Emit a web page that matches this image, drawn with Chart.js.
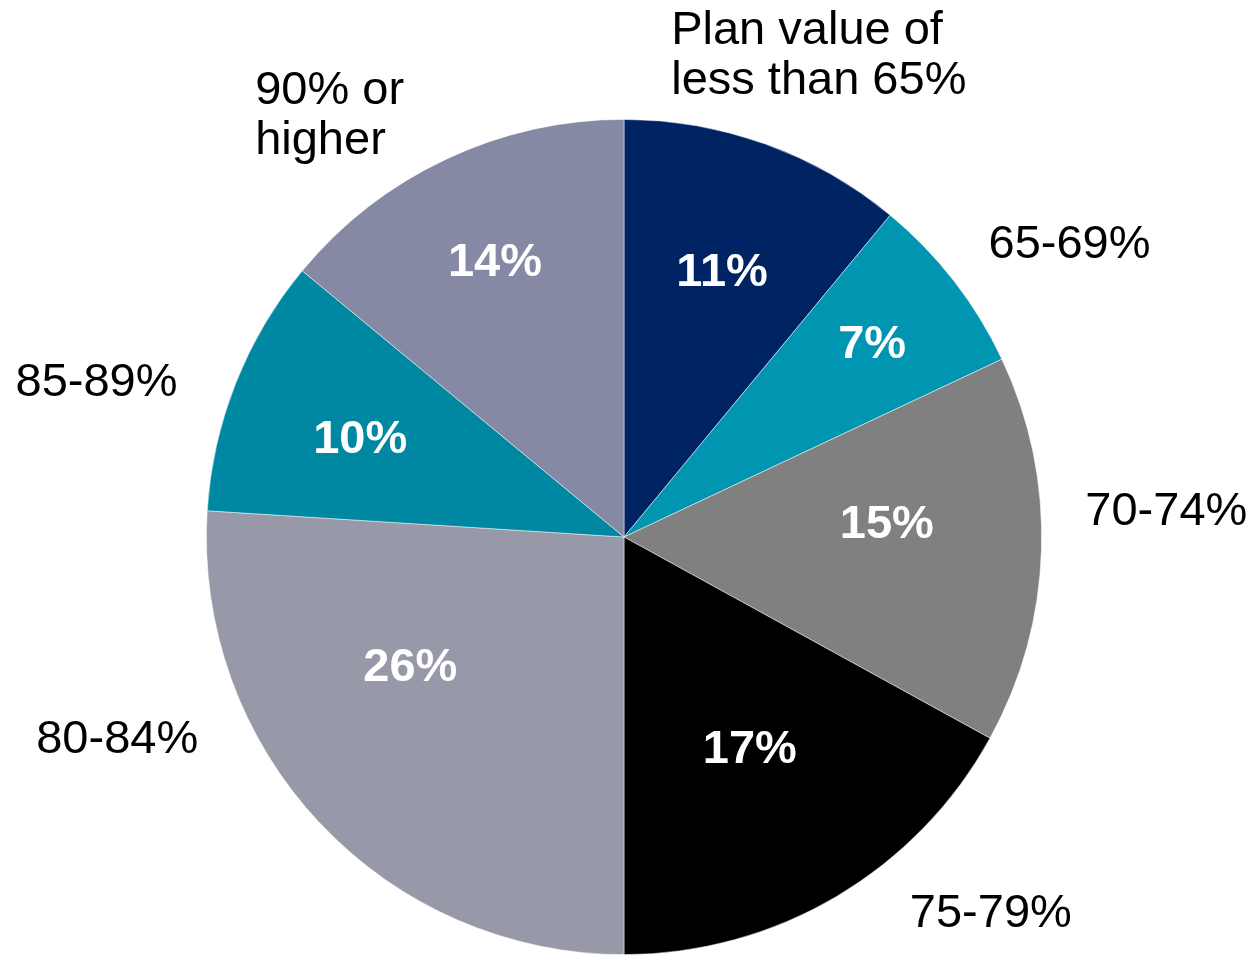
<!DOCTYPE html>
<html lang="en">
<head>
    <meta charset="UTF-8">
    <title>Plan value distribution</title>
    <script src="https://cdn.jsdelivr.net/npm/chart.js"></script>
    <style>
        html, body { margin: 0; padding: 0; background: #fff; }
        #wrap { width: 1254px; height: 955px; }
    </style>
</head>
<body>
    <div id="wrap"><canvas id="pie-chart"></canvas></div>

    <script>
        const categories = [
            ['Plan value of', 'less than 65%'],
            ['65-69%'],
            ['70-74%'],
            ['75-79%'],
            ['80-84%'],
            ['85-89%'],
            ['90% or', 'higher']
        ];
        const shares = [11, 7, 15, 17, 26, 10, 14];
        const sliceColors = ['#002363', '#0095b0', '#808080', '#000000', '#9899a8', '#0087a2', '#8589a3'];

        // value labels inside slices: [angle in degrees clockwise from top, radius factor]
        const insidePlace = [
            [20.4, 0.674],
            [52.3, 0.751],
            [87.5, 0.63],
            [149.4, 0.592],
            [238.5, 0.600],
            [290.2, 0.673],
            [334.8, 0.726]
        ];
        // category labels outside: [angle, radius factor, alignment]
        const outsidePlace = [
            [5.6, 1.158, 'left'],
            [56.8, 1.275, 'center'],
            [87.4, 1.300, 'center'],
            [135.8, 1.26, 'center'],
            [248.2, 1.307, 'center'],
            [286.3, 1.316, 'center'],
            [318.8, 1.341, 'left']
        ];

        const FONT = '"Liberation Sans", Arial, sans-serif';

        function polar(p, deg, f) {
            const a = deg * Math.PI / 180 - Math.PI / 2;
            return [p.x + Math.cos(a) * p.outerRadius * f, p.y + Math.sin(a) * p.outerRadius * f];
        }

        const sliceLabels = {
            id: 'sliceLabels',
            afterDatasetsDraw(chart) {
                const ctx = chart.ctx;
                const meta = chart.getDatasetMeta(0);
                meta.data.forEach((arc, i) => {
                    const p = arc.getProps(['x', 'y', 'outerRadius'], true);

                    ctx.save();
                    ctx.textBaseline = 'middle';

                    // value inside the slice
                    const [ix, iy] = polar(p, insidePlace[i][0], insidePlace[i][1]);
                    ctx.fillStyle = '#ffffff';
                    ctx.font = 'bold 47px ' + FONT;
                    ctx.textAlign = 'center';
                    ctx.fillText(shares[i] + '%', ix, iy);

                    // category name outside
                    const [deg, f, align] = outsidePlace[i];
                    const [ox, oy] = polar(p, deg, f);
                    const lines = categories[i];
                    const lh = 50;
                    ctx.fillStyle = '#000000';
                    ctx.font = '47px ' + FONT;
                    ctx.textAlign = align;
                    lines.forEach((line, j) => {
                        ctx.fillText(line, ox, oy + (j - (lines.length - 1) / 2) * lh);
                    });
                    ctx.restore();
                });
            }
        };

        new Chart(document.getElementById('pie-chart'), {
            type: 'pie',
            data: {
                labels: categories.map(c => c.join(' ')),
                datasets: [{
                    data: shares,
                    backgroundColor: sliceColors,
                    borderColor: 'rgba(255,255,255,0.6)',
                    borderWidth: 0.8
                }]
            },
            options: {
                responsive: true,
                maintainAspectRatio: false,
                animation: false,
                layout: { padding: { top: 119, bottom: 0, left: 0, right: 6 } },
                plugins: {
                    legend: { display: false },
                    tooltip: { enabled: false }
                }
            },
            plugins: [sliceLabels]
        });
    </script>
</body>
</html>
